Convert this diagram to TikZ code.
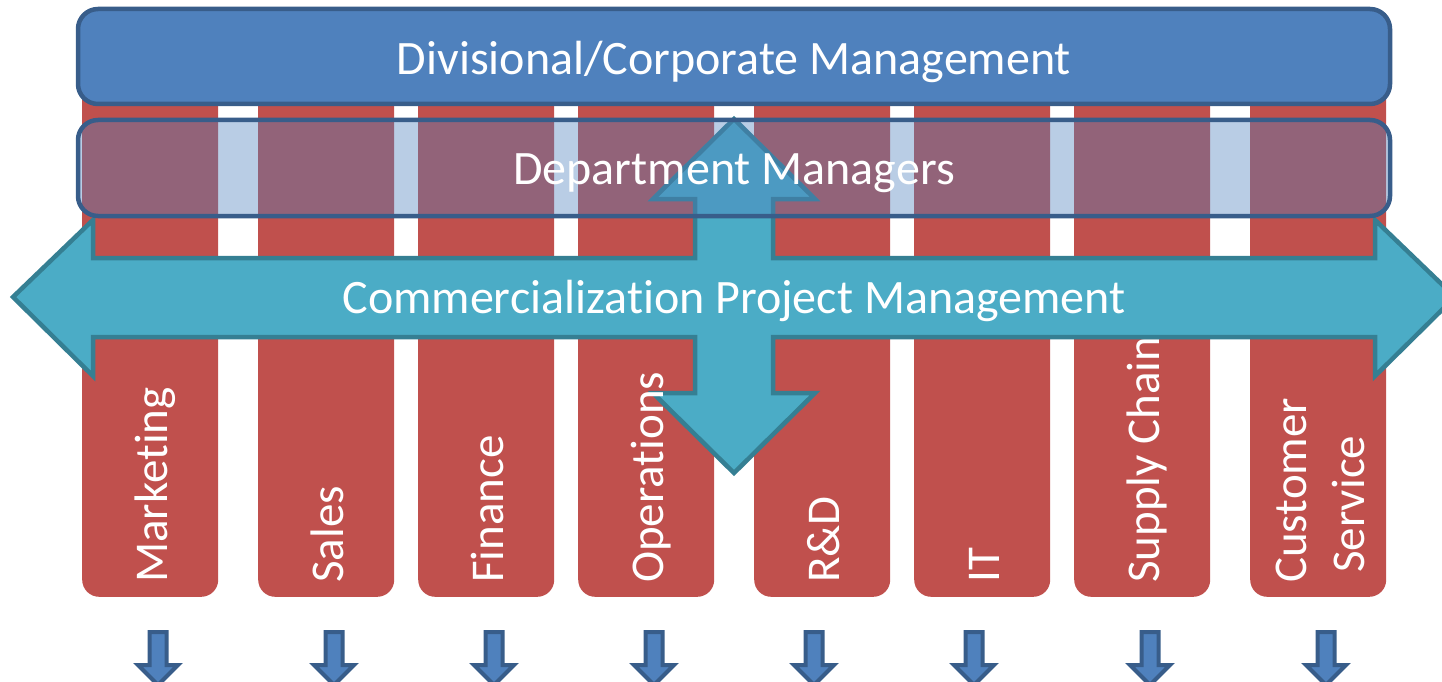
\documentclass[tikz,border=0pt]{standalone}
\usepackage{fontspec}
\setmainfont{Carlito}[Ligatures={NoCommon}]
\definecolor{colred}{HTML}{C0504D}
\definecolor{bannerblue}{HTML}{4F81BD}
\definecolor{bannerline}{HTML}{385D8A}
\definecolor{arrowteal}{HTML}{4BACC6}
\definecolor{arrowline}{HTML}{357F93}
\begin{document}
\begin{tikzpicture}[x=1pt,y=-1pt,
  lbl/.style={text=white, font=\fontsize{48}{58}\selectfont, inner sep=0pt},
  collbl/.style={text=white, font=\fontsize{47}{56}\selectfont, inner sep=0pt, rotate=90, anchor=base west},
  colbox/.style={fill=colred, rounded corners=17pt, minimum width=136pt, minimum height=560pt, anchor=south west, inner sep=0pt},
  bannerbox/.style={draw=bannerline, line width=4.5pt, rounded corners=20pt, minimum width=1312pt, inner sep=0pt},
  crossarrow/.style={fill=arrowteal, draw=arrowline, line width=4.5pt},
  downarrow/.style={fill=bannerblue, draw=bannerline, line width=4pt}]
\useasboundingbox (0,0) rectangle (1442,682);
% columns
\foreach \x/\n in {82/c1,258/c2,418/c3,578/c4,754/c5,914/c6,1074/c7,1250/c8}
  \node[colbox] (\n) at (\x,597) {};
% label partly hidden by the cross arrow
\node[collbl] (l7) at (1159,583) {Supply Chain};
% cross arrow
\draw[crossarrow] (13,297) -- (93,220) -- (93,258) -- (695,258) -- (695,199) -- (653,199)
  -- (734,119) -- (815,199) -- (773,199) -- (773,258) -- (1375,258) -- (1375,220)
  -- (1455,297) -- (1375,376) -- (1375,337) -- (773,337) -- (773,393) -- (815,393)
  -- (734,473) -- (653,393) -- (695,393) -- (695,337) -- (93,337) -- (93,376) -- cycle;
\node[lbl] (cpm) at (734,301) {Commercialization Project Management};
% other column labels
\node[collbl] (l1) at (167,583) {Marketing};
\node[collbl] (l2) at (343,583) {Sales};
\node[collbl] (l3) at (503,583) {Finance};
\node[collbl] (l4) at (663,583) {Operations};
\node[collbl] (l5) at (839,583) {R\&D};
\node[collbl] (l6) at (999,583) {IT};
\node[collbl] (l8a) at (1306,583) {Customer};
\node[collbl] (l8b) at (1364,573) {Service};
% department managers band
\node[bannerbox, fill=bannerblue, fill opacity=0.4, minimum height=96pt] (dm) at (734,168) {};
\node[lbl] (dmtext) at (734,173) {Department Managers};
% top banner
\node[bannerbox, fill=bannerblue, minimum height=95pt] (top) at (734,56.5) {};
\node[lbl] (toptext) at (734,61.5) {Divisional/Corporate Management};
% bottom arrows
\foreach \x in {158,334,494,654,814,974,1150,1326}
  \draw[downarrow] (\x-8.5,632) -- (\x+8.5,632) -- (\x+8.5,665) -- (\x+20,665)
    -- (\x,685) -- (\x-20,665) -- (\x-8.5,665) -- cycle;
\end{tikzpicture}
\end{document}
